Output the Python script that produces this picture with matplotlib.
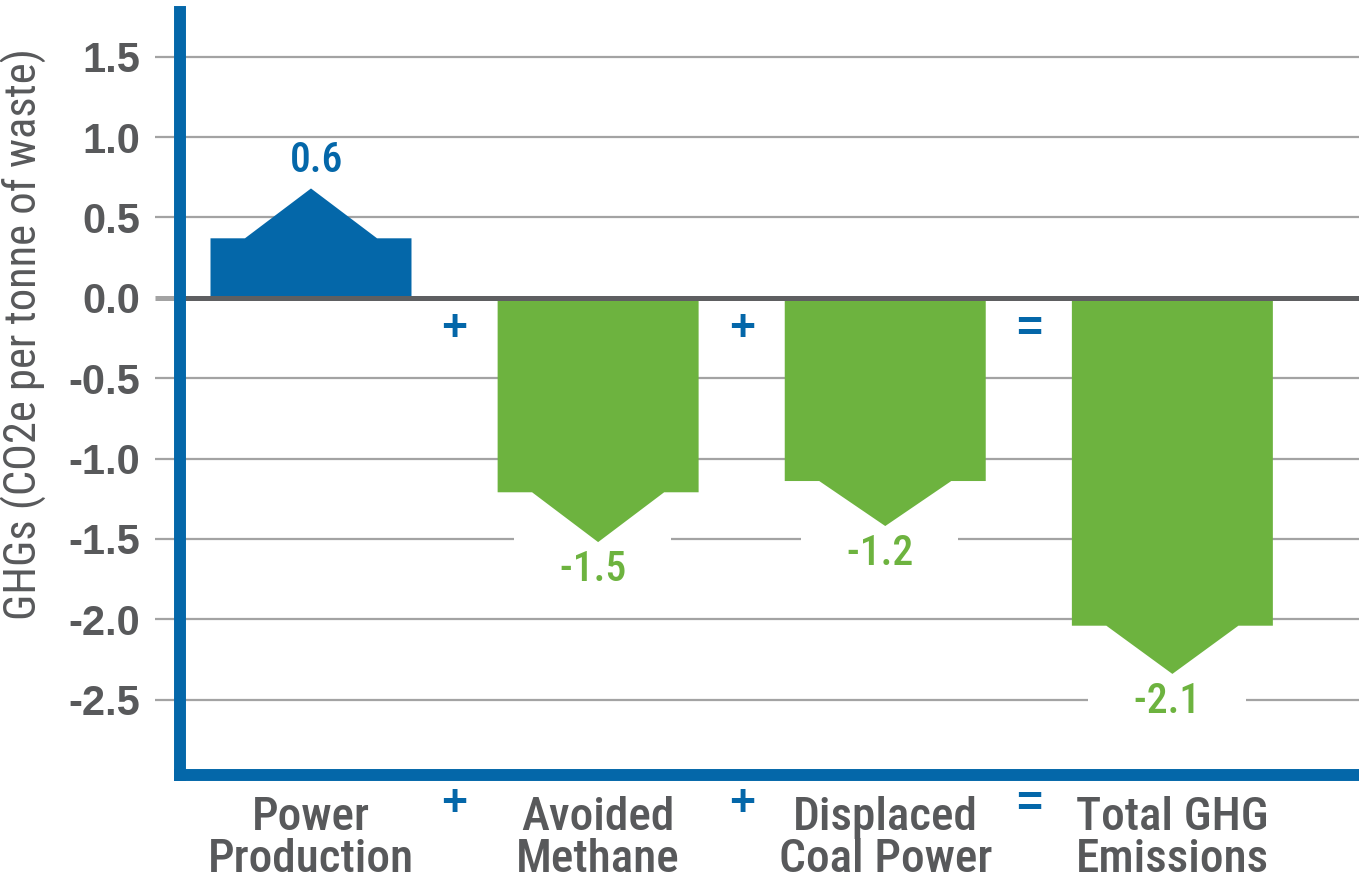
import matplotlib
matplotlib.use("Agg")
import matplotlib.pyplot as plt
from matplotlib.patches import Polygon

# ---- data ----
categories = ["Power\nProduction", "Avoided\nMethane", "Displaced\nCoal Power", "Total GHG\nEmissions"]
values = [0.6, -1.5, -1.2, -2.1]            # labelled values
body_ends = [0.37, -1.21, -1.14, -2.04]     # level where the arrow shoulders start
tip_ends = [0.68, -1.52, -1.42, -2.34]      # arrow tip level
operators = ["+", "+", "="]
yticks = [1.5, 1.0, 0.5, 0.0, -0.5, -1.0, -1.5, -2.0, -2.5]
ylabel = "GHGs (CO2e per tonne of waste)"

BLUE = "#0467A9"
GREEN = "#6DB33F"
GRAY_TXT = "#58595B"
GRID = "#A3A3A3"
ZERO = "#5E5F61"
FONT = ["Liberation Sans", "DejaVu Sans"]
COND = ["Roboto Condensed", "IBM Plex Sans Condensed", "Liberation Sans", "DejaVu Sans"]

fig = plt.figure(figsize=(13.59, 8.9), dpi=100)
ax = fig.add_axes([0.1325, 0.129, 1.0 - 0.1325, 0.986 - 0.129])
ax.set_xlim(-0.456, 3.65)
ax.set_ylim(-2.97, 1.775)

width = 0.70
inset = 0.12
x = list(range(len(categories)))
for xi, v, b, t in zip(x, values, body_ends, tip_ends):
    col = BLUE if v >= 0 else GREEN
    l, r = xi - width / 2, xi + width / 2
    pts = [(l, 0), (l, b), (l + inset, b), (xi, t), (r - inset, b), (r, b), (r, 0)]
    ax.add_patch(Polygon(pts, closed=True, facecolor=col, edgecolor="none", zorder=3))
    if v >= 0:
        ax.annotate(f"{v:.1f}", (xi, t), xytext=(4, 20), textcoords="offset points",
                    ha="center", va="center", fontsize=30, color=col, family=COND,
                    fontweight="medium", zorder=4)
    else:
        ax.annotate(f"   {v:.1f}   ", (xi, t), xytext=(-4, -20), textcoords="offset points",
                    ha="center", va="center", fontsize=30, color=col, family=COND,
                    fontweight="medium", zorder=2.5,
                    bbox=dict(boxstyle="square,pad=0.4", facecolor="white", edgecolor="none"))

# operators between bars, inside and below the axis
for i, op in enumerate(operators):
    xo = i + 0.5
    for yo in (-0.2, -3.15):
        ax.text(xo, yo, op, ha="center", va="center", fontsize=32, color=BLUE,
                family=FONT, fontweight="bold", clip_on=False, zorder=4)

# zero line
ax.axhline(0, color=ZERO, linewidth=3.6, zorder=4)

# grid
ax.set_axisbelow(True)
ax.set_yticks(yticks)
ax.set_yticklabels([f"{t:.1f}" for t in yticks], fontsize=30, fontweight="bold",
                   color=GRAY_TXT, family=FONT)
ax.yaxis.grid(True, color=GRID, linewidth=1.6)
ax.tick_params(axis="y", length=18, width=1.6, color=GRID, pad=11)
for tk, tv in zip(ax.yaxis.get_major_ticks(), yticks):
    if tv == 0.0:
        tk.tick1line.set_color(ZERO)
        tk.tick1line.set_markeredgewidth(3.6)
        tk.gridline.set_visible(False)

ax.set_xticks(x)
ax.set_xticklabels(categories, fontsize=34, color=GRAY_TXT, family=COND,
                   fontweight="medium", linespacing=0.98)
ax.tick_params(axis="x", length=0, pad=15)

ax.set_ylabel(ylabel, fontsize=32, color=GRAY_TXT, family=COND)
ax.yaxis.set_label_coords(-0.113, 0.579)

for s in ("top", "right"):
    ax.spines[s].set_visible(False)
for s in ("left", "bottom"):
    ax.spines[s].set_color(BLUE)
    ax.spines[s].set_linewidth(8.6)
    ax.spines[s].set_zorder(5)

fig.savefig("out.png", dpi=100)
